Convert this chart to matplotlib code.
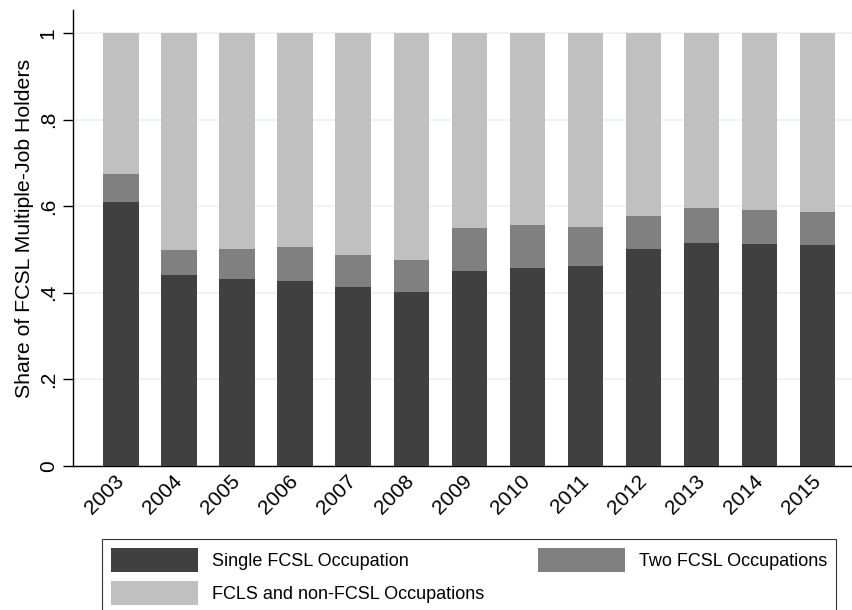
import matplotlib.pyplot as plt
import numpy as np

plt.rcParams['font.family'] = ['Liberation Sans', 'DejaVu Sans']

years = ['2003', '2004', '2005', '2006', '2007', '2008', '2009',
         '2010', '2011', '2012', '2013', '2014', '2015']
single = [0.610, 0.441, 0.432, 0.427, 0.413, 0.402, 0.450,
          0.457, 0.462, 0.501, 0.515, 0.513, 0.510]
# cumulative top of the "two occupations" segment
single_plus_two = [0.674, 0.499, 0.501, 0.506, 0.487, 0.476, 0.550,
                   0.557, 0.552, 0.577, 0.596, 0.591, 0.587]
total = [1.0] * len(years)

two = np.array(single_plus_two) - np.array(single)
mixed = np.array(total) - np.array(single_plus_two)

labels = ['Single FCSL Occupation', 'Two FCSL Occupations', 'FCLS and non-FCSL Occupations']
colors = ['#404040', '#808080', '#c0c0c0']
labelfont = 15.3
ticks_size = 15
legendfont = 13

fig = plt.figure(figsize=(8.53, 6.10), dpi=100)
ax = fig.add_axes([0.0859, 0.2361, 0.9136, 0.7475])

x = np.arange(len(years))
w = 0.61
b1 = ax.bar(x, single, w, color=colors[0], label=labels[0], zorder=3)
b2 = ax.bar(x, two, w, bottom=single, color=colors[1], label=labels[1], zorder=3)
b3 = ax.bar(x, mixed, w, bottom=single_plus_two, color=colors[2], label=labels[2], zorder=3)

ax.set_xlim(-0.82, 12.6)
ax.set_ylim(0, 1.053)
ax.set_yticks([0, 0.2, 0.4, 0.6, 0.8, 1.0])
ax.set_yticklabels(['0', '.2', '.4', '.6', '.8', '1'], rotation=90, va='center', fontsize=ticks_size)
ax.grid(axis='y', color='#eaf2f3', linewidth=1.2, zorder=0)
ax.set_xticks(x)
ax.set_xticklabels(years, rotation=45, ha='right', va='center', rotation_mode='anchor', fontsize=ticks_size)
ax.tick_params(axis='x', length=0, pad=9)
ax.tick_params(axis='y', length=7.2, width=1, pad=4)
ax.set_ylabel('Share of FCSL Multiple-Job Holders', fontsize=labelfont, ha='center', va='center')
ax.yaxis.set_label_coords(-0.062, 0.52)
for s in ['top', 'right']:
    ax.spines[s].set_visible(False)
ax.spines['left'].set_linewidth(1)
ax.spines['bottom'].set_linewidth(1)

# legend box runs off the bottom edge, as in the original export
leg = fig.legend([b1, b3, b2], [labels[0], labels[2], labels[1]], ncol=2,
                 loc='upper left', bbox_to_anchor=(102 / 853, 0, 734 / 853, 1 - 539 / 610),
                 mode='expand', fontsize=legendfont, frameon=True, fancybox=False,
                 edgecolor='black', handlelength=4.8, handleheight=1.674,
                 columnspacing=2.4, handletextpad=0.78, borderpad=0.5,
                 labelspacing=0.5, borderaxespad=0)
leg.get_frame().set_linewidth(0.8)

fig.savefig('out.png', dpi=100)
